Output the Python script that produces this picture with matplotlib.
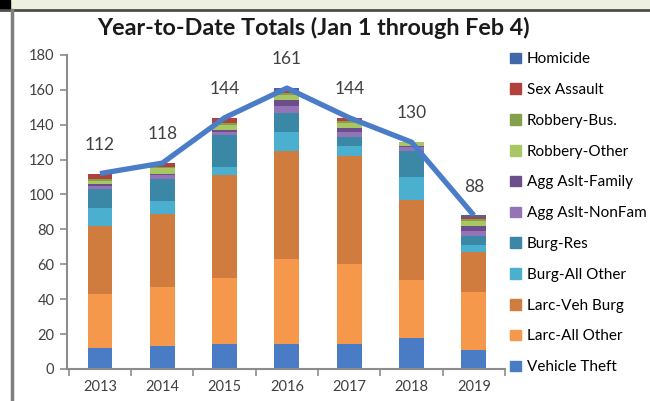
import matplotlib.pyplot as plt
import matplotlib.patches as mpatches
import numpy as np

plt.rcParams['font.family'] = ['Lato', 'DejaVu Sans']

years = ['2013', '2014', '2015', '2016', '2017', '2018', '2019']

# stacking order, bottom to top
vehicle_theft   = [12, 13, 14, 14, 14, 18, 11]
larc_all_other  = [31, 34, 38, 49, 46, 33, 33]
larc_veh_burg   = [39, 42, 59, 62, 62, 46, 23]
burg_all_other  = [10, 7, 5, 11, 6, 13, 4]
burg_res        = [11, 13, 18, 11, 5, 15, 5]
agg_nonfam      = [2, 2, 2, 4, 3, 2, 3]
agg_family      = [1, 1, 1, 3, 2, 1, 3]
robbery_other   = [2, 3, 3, 3, 3, 2, 3]
robbery_bus     = [1, 1, 1, 1, 1, 0, 1]
sex_assault     = [3, 2, 3, 2, 2, 0, 1]
homicide        = [0, 0, 0, 1, 0, 0, 1]

totals = [112, 118, 144, 161, 144, 130, 88]

series = [
    ('Vehicle Theft', vehicle_theft, '#4A7CC6'),
    ('Larc-All Other', larc_all_other, '#F6984C'),
    ('Larc-Veh Burg', larc_veh_burg, '#D07C3E'),
    ('Burg-All Other', burg_all_other, '#4BB0CF'),
    ('Burg-Res', burg_res, '#3B88A6'),
    ('Agg Aslt-NonFam', agg_nonfam, '#9474B6'),
    ('Agg Aslt-Family', agg_family, '#6A4F8C'),
    ('Robbery-Other', robbery_other, '#A8C762'),
    ('Robbery-Bus.', robbery_bus, '#84A04A'),
    ('Sex Assault', sex_assault, '#B0413C'),
    ('Homicide', homicide, '#3F68A8'),
]

fig = plt.figure(figsize=(6.5, 4.01), dpi=100)
ax = fig.add_axes([0.103, 0.08, 0.674, 0.783])

x = np.arange(len(years))
bottom = np.zeros(len(years))
handles = []
for name, vals, col in series:
    ax.bar(x, vals, 0.4, bottom=bottom, color=col, edgecolor='none')
    bottom += np.array(vals)
    handles.append(mpatches.Patch(color=col, label=name))

ax.plot(x, totals, color='#4A7CC8', lw=3.8, solid_capstyle='butt', zorder=5)
for xi, t in zip(x, totals):
    ax.annotate(str(t), (xi, t), xytext=(0, 15), textcoords='offset points',
                ha='center', va='bottom', fontsize=12.5, color='#404040')

ax.set_xlim(-0.53, 6.5)
ax.set_ylim(0, 180)
ax.set_yticks(range(0, 181, 20))
ax.set_xticks(x)
ax.set_xticklabels(years)
ax.set_xticks(np.arange(-0.5, 7, 1), minor=True)
ax.tick_params(axis='x', which='major', length=0, pad=8)
ax.tick_params(axis='x', which='minor', length=5, color='#8c8c8c', width=1.2)
ax.tick_params(axis='y', length=5, color='#8c8c8c', width=1.2, pad=4)
ax.tick_params(labelsize=10.5, labelcolor='#404040')
for s in ['top', 'right']:
    ax.spines[s].set_visible(False)
for s in ['left', 'bottom']:
    ax.spines[s].set_color('#8c8c8c')
    ax.spines[s].set_linewidth(1.5)

fig.text(0.483, 0.93, 'Year-to-Date Totals (Jan 1 through Feb 4)', ha='center',
         va='center', fontsize=16.8, fontweight='bold', color='#1a1a1a')

fig.legend(handles=handles[::-1], loc='upper left', bbox_to_anchor=(0.775, 0.885),
           frameon=False, fontsize=11, handlelength=0.7, handleheight=0.7,
           handletextpad=0.4, labelspacing=1.1, borderaxespad=0)

# screenshot border bits
fig.add_artist(mpatches.Rectangle((0, 0.978), 1, 0.022, transform=fig.transFigure,
                                  color='#EEF0DF', zorder=0))
fig.add_artist(plt.Line2D([0, 1], [0.975, 0.975], transform=fig.transFigure,
                          color='#4d4d4d', lw=2))
fig.add_artist(plt.Line2D([0.019, 0.019], [0, 0.975], transform=fig.transFigure,
                          color='#7f7f7f', lw=2.5))
fig.add_artist(mpatches.Rectangle((0, 0.978), 0.015, 0.022, transform=fig.transFigure,
                                  color='black'))

fig.savefig('out.png', dpi=100)
